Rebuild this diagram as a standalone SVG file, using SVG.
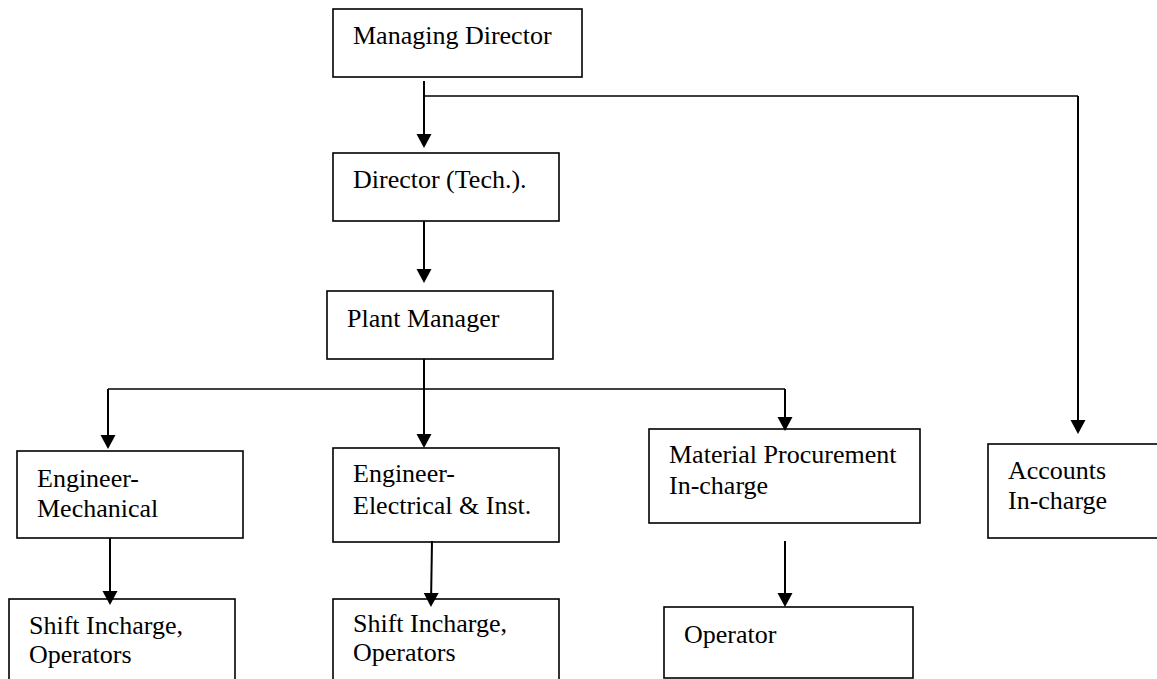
<svg xmlns="http://www.w3.org/2000/svg" width="1157" height="679" viewBox="0 0 1157 679">
<style>
.box{fill:none;stroke:#000;stroke-width:1.6}
.lbl{font-family:"Liberation Serif","Times New Roman",serif;font-size:26px;fill:#000}
.con{fill:none;stroke:#000;stroke-width:2}
.bar{fill:none;stroke:#000;stroke-width:1.6}
</style>
<defs>
<marker id="arr" markerUnits="userSpaceOnUse" markerWidth="15" markerHeight="16" refX="10" refY="7.5" orient="auto">
<path d="M0,0 L14,7.5 L0,15 z" fill="#000"/>
</marker>
</defs>
<rect width="1157" height="679" fill="#fff"/>
<g id="managing-director">
<rect class="box" x="333" y="9" width="249" height="68"/>
<text class="lbl" x="353" y="44">Managing Director</text>
</g>
<g id="director-tech">
<rect class="box" x="333" y="153" width="226" height="68"/>
<text class="lbl" x="353" y="188">Director (Tech.).</text>
</g>
<g id="plant-manager">
<rect class="box" x="327" y="291" width="226" height="68"/>
<text class="lbl" x="347" y="327">Plant Manager</text>
</g>
<g id="engineer-mechanical">
<rect class="box" x="17" y="451" width="226" height="87"/>
<text class="lbl" x="37" y="487">Engineer-</text>
<text class="lbl" x="37" y="517">Mechanical</text>
</g>
<g id="engineer-electrical">
<rect class="box" x="333" y="448" width="226" height="94"/>
<text class="lbl" x="353" y="482">Engineer-</text>
<text class="lbl" x="353" y="514">Electrical &amp; Inst.</text>
</g>
<g id="material-procurement">
<rect class="box" x="649" y="429" width="271" height="94"/>
<text class="lbl" x="669" y="463">Material Procurement</text>
<text class="lbl" x="669" y="494">In-charge</text>
</g>
<g id="accounts">
<rect class="box" x="988" y="444" width="175" height="94"/>
<text class="lbl" x="1008" y="479">Accounts</text>
<text class="lbl" x="1008" y="509">In-charge</text>
</g>
<g id="shift-left">
<rect class="box" x="9" y="599" width="226" height="95"/>
<text class="lbl" x="29" y="634">Shift Incharge,</text>
<text class="lbl" x="29" y="663">Operators</text>
</g>
<g id="shift-mid">
<rect class="box" x="333" y="599" width="226" height="95"/>
<text class="lbl" x="353" y="632">Shift Incharge,</text>
<text class="lbl" x="353" y="661">Operators</text>
</g>
<g id="operator">
<rect class="box" x="664" y="607" width="249" height="71"/>
<text class="lbl" x="684" y="643">Operator</text>
</g>
<g id="connectors">
<path class="con" d="M424,81 V144" marker-end="url(#arr)"/>
<path class="bar" d="M424,96 H1078"/>
<path class="con" d="M1078,96 V430" marker-end="url(#arr)"/>
<path class="con" d="M424,221 V279" marker-end="url(#arr)"/>
<path class="con" d="M424,359 V444" marker-end="url(#arr)"/>
<path class="bar" d="M108,389 H785"/>
<path class="con" d="M108,389 V445" marker-end="url(#arr)"/>
<path class="con" d="M785,389 V427" marker-end="url(#arr)"/>
<path class="con" d="M110,538 V601" marker-end="url(#arr)"/>
<path class="con" d="M432,541 L431,603" marker-end="url(#arr)"/>
<path class="con" d="M785,541 V603" marker-end="url(#arr)"/>
</g>
</svg>
